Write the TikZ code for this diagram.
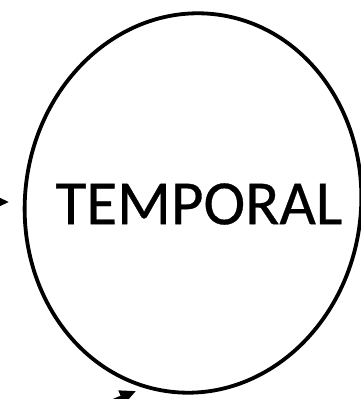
\documentclass[tikz,border=0pt]{standalone}
\usepackage{fontspec}
\newfontfamily\labelfont[FakeBold=0.5]{Carlito}
\usetikzlibrary{arrows.meta}

\tikzstyle{ring} = [line width=3.8pt]
\tikzstyle{word} = [font=\labelfont\fontsize{63}{70}\selectfont, inner sep=0pt]
\tikzstyle{link} = [line width=3.5pt, -{Triangle[length=16pt,width=14pt]}]

\begin{document}
\begin{tikzpicture}[x=1pt, y=1pt]
\useasboundingbox (0,0) rectangle (361,399);
\clip (0,0) rectangle (361,399);
%begin ring
\draw[ring, rotate around={-7:(193,196)}] (193,196) ellipse [x radius=168, y radius=190];
\node[word] (temporal) at (199,195) {TEMPORAL};
%end ring
%begin neighbour
\draw[ring, gray!25] (-170.2,24) ellipse [x radius=168, y radius=190];
%end neighbour
%begin arrows
\coordinate (inStart) at (-40,197);
\coordinate (inEnd) at (9,197);
\draw[link] (inStart) -- (inEnd);
\coordinate (outStart) at (80,-16);
\coordinate (outEnd) at (136,8);
\draw[link] (outStart) -- (outEnd);
%end arrows
\end{tikzpicture}
\end{document}
